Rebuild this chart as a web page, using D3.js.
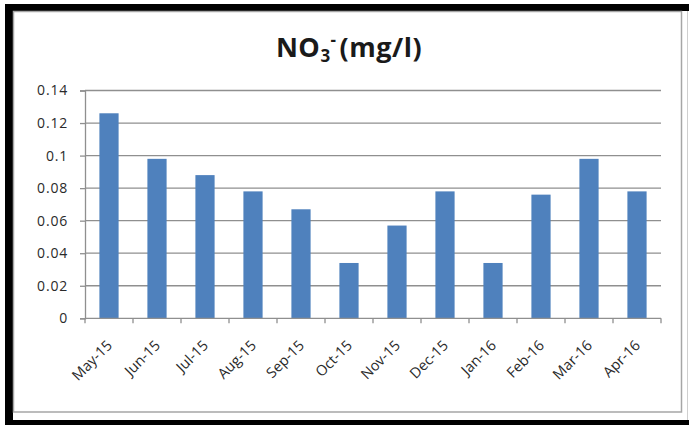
<!DOCTYPE html>
<html>
<head>
<meta charset="utf-8">
<script src="https://cdn.jsdelivr.net/npm/d3@7"></script>
<style>
  html, body { margin: 0; padding: 0; background: #fff; }
  svg { display: block; }
  text { font-family: "Open Sans", "Liberation Sans", sans-serif; }
</style>
</head>
<body>
<svg id="chart" width="689" height="425"></svg>
<script>
// Monthly nitrate concentration, May 2015 – April 2016
const months = ["May-15", "Jun-15", "Jul-15", "Aug-15", "Sep-15", "Oct-15",
                "Nov-15", "Dec-15", "Jan-16", "Feb-16", "Mar-16", "Apr-16"];
const no3Values = [0.126, 0.098, 0.088, 0.078, 0.067, 0.034,
                   0.057, 0.078, 0.034, 0.076, 0.098, 0.078];
const yTicks = [0, 0.02, 0.04, 0.06, 0.08, 0.1, 0.12, 0.14];

const svg = d3.select("#chart");

// outer frame
svg.append("rect").attr("x", 0).attr("y", 0).attr("width", 689).attr("height", 425).attr("fill", "#fff");
svg.append("rect").attr("x", 5).attr("y", 4).attr("width", 684).attr("height", 7).attr("fill", "#000");
svg.append("rect").attr("x", 5).attr("y", 4).attr("width", 8).attr("height", 421).attr("fill", "#000");
svg.append("rect").attr("x", 5).attr("y", 420).attr("width", 684).attr("height", 5).attr("fill", "#000");
svg.append("line").attr("x1", 687.5).attr("x2", 687.5).attr("y1", 11).attr("y2", 420)
  .attr("stroke", "#cfcfcf").attr("stroke-width", 1);
// chart area border
svg.append("rect").attr("x", 13.5).attr("y", 11.5).attr("width", 668).attr("height", 400.5)
  .attr("fill", "none").attr("stroke", "#a6a6a6").attr("stroke-width", 1.5);

const plot = { left: 85, right: 661, top: 90.5, bottom: 318.3 };

const x = d3.scaleBand().domain(months).range([plot.left, plot.right])
  .paddingInner(0.6).paddingOuter(0.3);
const y = d3.scaleLinear().domain([0, 0.14]).range([plot.bottom, plot.top]);

// horizontal gridlines
svg.append("g").selectAll("line").data(yTicks.slice(1)).join("line")
  .attr("x1", plot.left).attr("x2", plot.right)
  .attr("y1", d => y(d)).attr("y2", d => y(d))
  .attr("stroke", "#8f8f8f").attr("stroke-width", 1.3);

// bars
svg.append("g").selectAll("rect").data(months).join("rect")
  .attr("x", d => x(d))
  .attr("y", (d, i) => y(no3Values[i]))
  .attr("width", x.bandwidth())
  .attr("height", (d, i) => y(0) - y(no3Values[i]))
  .attr("fill", "#4f81bd");

// y axis
const yAxis = d3.axisLeft(y).tickValues(yTicks).tickSize(5).tickPadding(12)
  .tickFormat(d => d === 0 ? "0" : String(+d.toFixed(2)));
const gy = svg.append("g").attr("transform", `translate(${plot.left},0)`).call(yAxis);
gy.select(".domain").attr("stroke", "#8f8f8f").attr("stroke-width", 1.3);
gy.selectAll(".tick line").attr("stroke", "#8f8f8f").attr("stroke-width", 1.3);
gy.selectAll(".tick text").attr("font-size", 14).attr("fill", "#2a2a2a").attr("letter-spacing", "0.8px");

// x axis: ticks sit between categories
const tickPos = d3.range(months.length + 1).map(i => plot.left + i * (plot.right - plot.left) / months.length);
svg.append("line").attr("x1", plot.left).attr("x2", plot.right)
  .attr("y1", y(0)).attr("y2", y(0)).attr("stroke", "#8f8f8f").attr("stroke-width", 1.3);
svg.append("g").selectAll("line").data(tickPos).join("line")
  .attr("x1", d => d).attr("x2", d => d)
  .attr("y1", y(0)).attr("y2", y(0) + 5)
  .attr("stroke", "#8f8f8f").attr("stroke-width", 1.3);

svg.append("g").selectAll("text").data(months).join("text")
  .attr("transform", d => `translate(${x(d) + x.bandwidth() / 2 + 4},${y(0) + 28}) rotate(-45)`)
  .attr("text-anchor", "end")
  .attr("font-size", 14.5)
  .attr("fill", "#2a2a2a")
  .text(d => d);

// title: NO3⁻ (mg/l)
const title = svg.append("text")
  .attr("x", 349).attr("y", 57)
  .attr("text-anchor", "middle")
  .attr("font-size", 27).attr("font-weight", "bold").attr("fill", "#1a1a1a")
  .attr("letter-spacing", "0.5px");
title.append("tspan").text("NO");
title.append("tspan").attr("font-size", 17).attr("dy", 5).text("3");
title.append("tspan").attr("font-size", 17).attr("dy", -16).text("-");
title.append("tspan").attr("dy", 11).attr("dx", 3).text("(mg/l)");
</script>
</body>
</html>
